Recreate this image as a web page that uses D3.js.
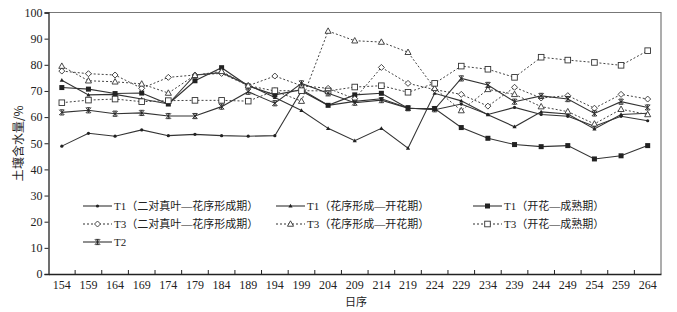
<!DOCTYPE html>
<html>
<head>
<meta charset="utf-8">
<script src="https://cdn.jsdelivr.net/npm/d3@7"></script>
<style>
  body { margin: 0; background: #fff; }
  svg text { font-family: "Liberation Serif", "Noto Sans CJK SC", serif; fill: #222; }
</style>
</head>
<body>
<div id="chart"></div>
<script>
// day of year (x categories)
const days = [154,159,164,169,174,179,184,189,194,199,204,209,214,219,224,229,234,239,244,249,254,259,264];
const yTicks = [0,10,20,30,40,50,60,70,80,90,100];

// soil water content (%)
const t1a = [48.9,53.8,52.7,55.1,52.9,53.4,52.9,52.7,52.9,70.0,64.5,66.0,67.0,63.5,62.8,65.0,61.0,63.7,61.0,60.3,56.5,60.3,58.6];
const t1b = [74.1,68.5,68.7,66.9,65.0,76.1,77.0,72.3,67.5,62.5,55.7,51.0,55.7,48.1,69.1,66.2,60.9,56.3,62.0,61.2,55.5,61.0,61.5];
const t1c = [71.3,70.7,69.0,69.2,65.0,73.9,78.9,71.9,68.5,70.5,64.5,68.5,69.1,63.4,63.3,56.0,51.9,49.5,48.7,49.1,44.0,45.2,49.1];
const t3a = [77.6,76.6,76.1,71.0,75.2,76.1,76.7,72.0,75.7,72.0,71.0,67.0,79.0,72.9,70.5,68.7,64.2,71.4,67.3,68.2,63.4,68.7,66.9];
const t3b = [79.5,73.9,73.5,72.7,69.2,76.0,77.5,72.0,70.0,66.1,92.9,89.2,88.7,84.8,71.0,62.5,70.6,68.7,64.0,62.1,57.4,63.0,61.0];
const t3c = [65.5,66.5,66.9,65.9,66.3,66.4,66.4,66.1,70.1,70.1,70.0,71.5,72.0,69.5,72.9,79.5,78.3,75.2,82.9,81.8,80.9,79.8,85.4];
const t2  = [61.8,62.6,61.3,61.6,60.4,60.4,64.0,69.7,65.3,72.9,69.1,65.5,66.5,63.4,63.0,74.8,72.3,65.9,68.1,66.9,61.4,65.9,63.7];

const seriesNames = [
  "T1（二对真叶—花序形成期）", "T1（花序形成—开花期）", "T1（开花—成熟期）",
  "T3（二对真叶—花序形成期）", "T3（花序形成—开花期）", "T3（开花—成熟期）",
  "T2"
];

(function draw(){
  const width = 677, height = 312;
  const margin = { top: 12.5, right: 16, bottom: 38, left: 48.5 };

  const svg = d3.select("#chart").append("svg")
    .attr("width", width).attr("height", height);

  const x = d3.scaleBand().domain(days).range([margin.left, width - margin.right]).padding(0);
  const y = d3.scaleLinear().domain([0, 100]).range([height - margin.bottom, margin.top]);
  const cx = d => x(d) + x.bandwidth() / 2;

  // frame (top + right in grey)
  svg.append("path")
    .attr("d", `M${margin.left},${margin.top}H${width - margin.right}V${height - margin.bottom}`)
    .attr("fill", "none").attr("stroke", "#777").attr("stroke-width", 1.2);

  // y axis
  const ya = svg.append("g")
    .attr("transform", `translate(${margin.left},0)`)
    .call(d3.axisLeft(y).tickValues(yTicks).tickSize(4).tickPadding(2));
  ya.select(".domain").attr("stroke", "#222").attr("stroke-width", 1.3);
  ya.selectAll("line").attr("stroke", "#222");
  ya.selectAll("text").style("font-size", "12px").attr("fill", "#222");

  // x axis: labels centred in bands, tick marks at band edges pointing in
  const xa = svg.append("g")
    .attr("transform", `translate(0,${height - margin.bottom})`)
    .call(d3.axisBottom(x).tickSize(0).tickPadding(6));
  xa.select(".domain").attr("stroke", "#222").attr("stroke-width", 1.3);
  xa.selectAll("text").style("font-size", "12px").attr("fill", "#222");
  svg.append("g").selectAll("line")
    .data(days.slice(1))
    .join("line")
    .attr("x1", d => x(d)).attr("x2", d => x(d))
    .attr("y1", height - margin.bottom).attr("y2", height - margin.bottom - 4)
    .attr("stroke", "#222");

  // axis titles
  svg.append("text")
    .attr("x", 356).attr("y", 306)
    .attr("text-anchor", "middle").style("font-size", "11px")
    .style("font-family", "'Noto Sans CJK SC'")
    .text("日序");
  svg.append("text")
    .attr("transform", `translate(23,${y(50)}) rotate(-90)`)
    .attr("text-anchor", "middle").style("font-size", "12px")
    .style("font-family", "'Noto Sans CJK SC'")
    .attr("fill", "#333")
    .text("土壤含水量/%");

  // marker drawers
  const tri = s => `M0,${-s}L${s*0.95},${s*0.7}L${-s*0.95},${s*0.7}Z`;
  const star = s => `M${-s},${-s}L${s},${s}M${s},${-s}L${-s},${s}M0,${-s}V${s}M${-s*0.8},${-s}H${s*0.8}M${-s*0.8},${s}H${s*0.8}`;
  const markers = {
    dot:     g => g.append("circle").attr("r", 1.6).attr("fill", "#222"),
    ftri:    g => g.append("path").attr("d", tri(2.2)).attr("fill", "#222"),
    fsquare: g => g.append("rect").attr("x", -2.5).attr("y", -2.5).attr("width", 5).attr("height", 5).attr("fill", "#222"),
    diamond: g => g.append("path").attr("d", "M0,-3L3,0L0,3L-3,0Z").attr("fill", "#fff").attr("stroke", "#333").attr("stroke-width", 0.9),
    otri:    g => g.append("path").attr("d", tri(3.2)).attr("fill", "#fff").attr("stroke", "#333").attr("stroke-width", 0.9),
    osquare: g => g.append("rect").attr("x", -2.8).attr("y", -2.8).attr("width", 5.6).attr("height", 5.6).attr("fill", "#fff").attr("stroke", "#333").attr("stroke-width", 0.9),
    star:    g => g.append("path").attr("d", star(2.6)).attr("fill", "none").attr("stroke", "#222").attr("stroke-width", 0.9)
  };

  const series = [
    { name: seriesNames[0], values: t1a, dash: null,  mark: "dot" },
    { name: seriesNames[1], values: t1b, dash: null,  mark: "ftri" },
    { name: seriesNames[2], values: t1c, dash: null,  mark: "fsquare" },
    { name: seriesNames[3], values: t3a, dash: "2,2", mark: "diamond" },
    { name: seriesNames[4], values: t3b, dash: "2,2", mark: "otri" },
    { name: seriesNames[5], values: t3c, dash: "2,2", mark: "osquare" },
    { name: seriesNames[6], values: t2,  dash: null,  mark: "star" }
  ];

  const line = d3.line().x(d => cx(d.day)).y(d => y(d.v));

  // lines first, then markers on top
  series.forEach(s => {
    const pts = days.map((d, i) => ({ day: d, v: s.values[i] }));
    svg.append("path")
      .datum(pts)
      .attr("d", line)
      .attr("fill", "none")
      .attr("stroke", s.dash ? "#444" : "#333")
      .attr("stroke-width", s.dash ? 1 : 1.1)
      .attr("stroke-dasharray", s.dash);
  });
  series.forEach(s => {
    const g = svg.append("g");
    days.forEach((d, i) => {
      const m = g.append("g").attr("transform", `translate(${cx(d)},${y(s.values[i])})`);
      markers[s.mark](m);
    });
  });

  // legend: 3 columns, 3 rows
  const legX = [83, 276, 473];
  const legY = [206, 224, 242];
  series.forEach((s, i) => {
    const col = i === 6 ? 0 : i % 3;
    const row = i === 6 ? 2 : Math.floor(i / 3);
    const lx = legX[col], ly = legY[row];
    const g = svg.append("g");
    g.append("line")
      .attr("x1", lx).attr("x2", lx + 29).attr("y1", ly).attr("y2", ly)
      .attr("stroke", "#333").attr("stroke-width", 1.1)
      .attr("stroke-dasharray", s.dash);
    const m = g.append("g").attr("transform", `translate(${lx + 14.5},${ly})`);
    markers[s.mark](m);
    g.append("text")
      .attr("x", lx + 31).attr("y", ly + 4)
      .style("font-size", "11px")
      .attr("fill", "#333")
      .text(s.name);
  });
})();
</script>
</body>
</html>
